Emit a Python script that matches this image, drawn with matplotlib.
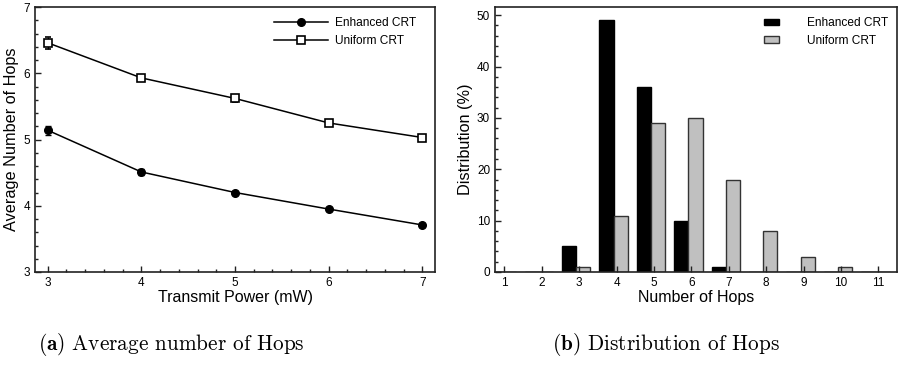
import numpy as np
import matplotlib
matplotlib.use('Agg')
import matplotlib.pyplot as plt
from matplotlib.ticker import MultipleLocator
from matplotlib.lines import Line2D

plt.rcParams['font.family'] = ['Liberation Sans', 'DejaVu Sans']
plt.rcParams['mathtext.fontset'] = 'cm'

# (a) average number of hops vs transmit power
power = [3, 4, 5, 6, 7]
enh_avg = [5.14, 4.51, 4.20, 3.95, 3.71]
enh_err = [0.07, 0.04, 0.02, 0.02, 0.03]
uni_avg = [6.46, 5.93, 5.62, 5.25, 5.03]
uni_err = [0.09, 0.03, 0.05, 0.02, 0.02]

# (b) distribution of hops
hops = np.arange(1, 12)
enh_dist = [0, 0, 5, 49, 36, 10, 1, 0, 0, 0, 0]
uni_dist = [0, 0, 1, 11, 29, 30, 18, 8, 3, 1, 0]

W, H = 898, 367
fig = plt.figure(figsize=(W / 100, H / 100), dpi=100)

def px_axes(l, t, r, b):
    return fig.add_axes([l / W, 1 - b / H, (r - l) / W, (b - t) / H])

ax1 = px_axes(35, 7, 435, 272)
ax2 = px_axes(495, 7, 897, 272)

for ax in (ax1, ax2):
    for s in ax.spines.values():
        s.set_linewidth(1.2)
        s.set_color('#222222')
    ax.tick_params(direction='in', which='both', labelsize=8.5, width=1, color='#222222')
    ax.tick_params(which='major', length=4)
    ax.tick_params(which='minor', length=2.5)

# --- left ---
ax1.errorbar(power, enh_avg, yerr=enh_err, color='black', marker='o', ms=5.5,
             lw=1.1, capsize=2, elinewidth=1)
ax1.errorbar(power, uni_avg, yerr=uni_err, color='black', marker='s', ms=5.5,
             mfc='white', mew=1.2, lw=1.1, capsize=2, elinewidth=1)
ax1.set_xlim(2.865, 7.135)
ax1.set_ylim(3, 7)
ax1.xaxis.set_major_locator(MultipleLocator(1))
ax1.xaxis.set_minor_locator(MultipleLocator(0.2))
ax1.yaxis.set_major_locator(MultipleLocator(1))
ax1.yaxis.set_minor_locator(MultipleLocator(0.2))
ax1.set_xlabel('Transmit Power (mW)', fontsize=11.5, labelpad=1)
ax1.set_ylabel('Average Number of Hops', fontsize=11.7, labelpad=3)
handles1 = [Line2D([], [], color='black', marker='o', ms=5.5, lw=1.1),
            Line2D([], [], color='black', marker='s', ms=5.5, mfc='white', mew=1.2, lw=1.1)]
ax1.legend(handles1, ['Enhanced CRT', 'Uniform CRT'], loc='upper right',
           bbox_to_anchor=(0.9525, 0.961), frameon=False, fontsize=8.6,
           handlelength=4.5, handletextpad=0.6, borderaxespad=0, borderpad=0,
           labelspacing=0.48)

# --- right ---
bw = 0.38
ax2.bar(hops - 0.27, enh_dist, width=bw, color='black', edgecolor='black',
        lw=1, label='Enhanced CRT')
ax2.bar(hops + 0.11, uni_dist, width=bw, color='#c0c0c0', edgecolor='#333333',
        lw=1, label='Uniform CRT')
ax2.set_xlim(0.75, 11.5)
ax2.set_ylim(0, 51.6)
ax2.xaxis.set_major_locator(MultipleLocator(1))
ax2.yaxis.set_major_locator(MultipleLocator(10))
ax2.yaxis.set_minor_locator(MultipleLocator(2))
ax2.set_xlabel('Number of Hops', fontsize=11.5, labelpad=1)
ax2.set_ylabel('Distribution (%)', fontsize=11.7, labelpad=3)
ax2.legend(loc='upper right', bbox_to_anchor=(0.9776, 0.961), frameon=False,
           fontsize=8.6, handlelength=1.27, handleheight=0.5, handletextpad=2.3,
           borderaxespad=0, borderpad=0, labelspacing=0.48)

fig.text(171 / W, 1 - 344 / H, r'$\mathbf{(a)}$ Average number of Hops',
         family='cmr10', fontsize=15.3, ha='center', va='center')
fig.text(666 / W, 1 - 344 / H, r'$\mathbf{(b)}$ Distribution of Hops',
         family='cmr10', fontsize=15.3, ha='center', va='center')

fig.savefig('out.png', dpi=100)
